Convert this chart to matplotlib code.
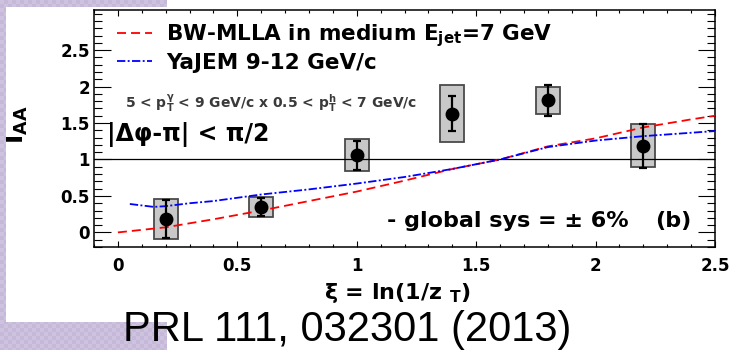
import numpy as np
import matplotlib
matplotlib.use("Agg")
import matplotlib.pyplot as plt

"""
I_AA vs xi for gamma-hadron correlations, with model curves
"""

# Data points (xi = ln(1/z_T))
xi = np.array([0.2, 0.6, 1.0, 1.4, 1.8, 2.2])
iaa = np.array([0.18, 0.35, 1.06, 1.63, 1.81, 1.19])
stat_err = np.array([0.26, 0.12, 0.20, 0.24, 0.21, 0.30])
sys_err = np.array([0.275, 0.14, 0.22, 0.385, 0.185, 0.29])

# BW-MLLA in medium, E_jet = 7 GeV
bw_xi = [0.0, 0.2, 0.4, 0.6, 0.8, 1.0, 1.2, 1.4, 1.6, 1.8, 2.0, 2.2, 2.4, 2.5]
bw_iaa = [0.0, 0.07, 0.18, 0.30, 0.43, 0.56, 0.71, 0.87, 1.00, 1.18, 1.29, 1.44, 1.55, 1.60]

# YaJEM 9-12 GeV/c
yj_xi = [0.05, 0.15, 0.2, 0.3, 0.4, 0.6, 0.8, 1.0, 1.2, 1.4, 1.6, 1.8, 2.0, 2.2, 2.5]
yj_iaa = [0.39, 0.35, 0.36, 0.40, 0.43, 0.52, 0.59, 0.67, 0.76, 0.87, 1.00, 1.17, 1.26, 1.32, 1.39]

x_ticks = [0, 0.5, 1, 1.5, 2, 2.5]
x_tick_labels = ["0", "0.5", "1", "1.5", "2", "2.5"]
y_ticks = [0, 0.5, 1, 1.5, 2, 2.5]
y_tick_labels = ["0", "0.5", "1", "1.5", "2", "2.5"]

plt.rcParams["font.family"] = ["DejaVu Sans"]
plt.rcParams["font.weight"] = "bold"
plt.rcParams["axes.labelweight"] = "bold"
plt.rcParams["mathtext.default"] = "regular"
plt.rcParams["lines.scale_dashes"] = False

W, H = 731, 350
fig = plt.figure(figsize=(W / 100, H / 100), dpi=100)
fig.patch.set_facecolor("white")

# lavender checkered slide background behind the plot
yy, xx = np.mgrid[0:H, 0:W]
bg = np.zeros((H, W, 4))
mask = ((yy < 7) & (xx < 167)) | ((xx < 6) & (yy < 322)) | ((yy >= 322) & (xx < 167))
light = np.array([0.808, 0.765, 0.875, 1.0])
dark = np.array([0.775, 0.725, 0.850, 1.0])
checker = ((xx // 4 + yy // 4) % 2).astype(bool)
bg[mask & checker] = dark
bg[mask & ~checker] = light
fig.figimage(bg, 0, 0, origin="upper", zorder=0)

ax = fig.add_axes([94 / W, 1 - 247 / H, 621 / W, 237 / H])
ax.set_xlim(-0.1, 2.5)
ax.set_ylim(-0.2, 3.05)

# systematic boxes
ax.bar(xi, 2 * sys_err, bottom=iaa - sys_err, width=0.1, color="#c8c8c8",
       edgecolor="#4a4a4a", linewidth=1.3, zorder=1)

ax.axhline(1.0, color="black", lw=0.9, zorder=2)

ax.plot(bw_xi, bw_iaa, color="#ff0000", lw=1.3, dashes=(6.5, 3.6), zorder=3,
        label="BW-MLLA in medium E$_{jet}$=7 GeV")
ax.plot(yj_xi, yj_iaa, color="#0000ff", lw=1.3, dashes=(6, 1.7, 1.4, 1.7), zorder=3,
        label="YaJEM 9-12 GeV/c")

ax.errorbar(xi, iaa, yerr=stat_err, fmt="o", color="black", ms=9, elinewidth=1.6,
            capsize=2.6, capthick=1.6, zorder=4)

ax.legend(loc="upper left", bbox_to_anchor=(0.037, 0.95), frameon=False,
          fontsize=15.5, handlelength=1.63, handletextpad=0.65, borderpad=0,
          borderaxespad=0, labelspacing=0.2)

ax.text(0.050, 0.608, "5 < p$_T^{γ}$ < 9 GeV/c x 0.5 < p$_T^{h}$ < 7 GeV/c",
        transform=ax.transAxes, fontsize=10, color="#3a3a3a", va="center")
ax.text(0.021, 0.475, "|Δφ-π| < π/2", transform=ax.transAxes, fontsize=17, va="center")
ax.text(0.472, 0.084, "- global sys = ± 6%", transform=ax.transAxes, fontsize=16,
        va="baseline")
ax.text(0.903, 0.084, "(b)", transform=ax.transAxes, fontsize=16, va="baseline")

# ROOT-like ticks on all sides
ax.set_xticks(x_ticks)
ax.set_xticklabels(x_tick_labels)
ax.set_yticks(y_ticks)
ax.set_yticklabels(y_tick_labels)
ax.set_xticks(np.arange(-0.1, 2.51, 0.1), minor=True)
ax.set_yticks(np.arange(-0.2, 3.01, 0.1), minor=True)
ax.tick_params(axis="x", which="major", direction="in", length=4.5, width=0.8,
               top=True, labelsize=12, pad=7)
ax.tick_params(axis="x", which="minor", direction="in", length=2.3, width=0.8, top=True)
ax.tick_params(axis="y", which="major", direction="in", length=12, width=0.8,
               right=True, labelsize=12, pad=3)
ax.tick_params(axis="y", which="minor", direction="in", length=6, width=0.8, right=True)
for s in ax.spines.values():
    s.set_linewidth(1.1)

ax.set_xlabel("ξ = ln(1/z $_T$)", fontsize=16, fontweight="bold")
ax.xaxis.set_label_coords(0.488, -0.143)
ax.set_ylabel("I$_{AA}$", fontsize=18, fontweight="bold")
ax.yaxis.set_label_coords(-0.103, 0.515)

fig.text(123 / W, 1 - 341 / H, "PRL 111, 032301 (2013)", fontsize=30,
         family="Liberation Sans", weight="normal", va="baseline")

fig.savefig("out.png", dpi=100)
